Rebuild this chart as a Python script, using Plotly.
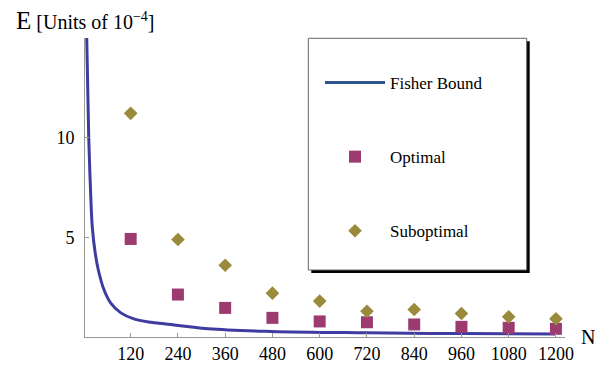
import plotly.graph_objects as go

# ---- data ----
N_points = [120, 240, 360, 480, 600, 720, 840, 960, 1080, 1200]
optimal = [4.92, 2.13, 1.46, 0.96, 0.78, 0.74, 0.63, 0.51, 0.46, 0.41]
suboptimal = [11.22, 4.89, 3.60, 2.20, 1.80, 1.29, 1.38, 1.18, 1.01, 0.91]

fisher_N = [8.4, 13.5, 17.6, 22.6, 30, 38, 52, 69, 95, 128, 171, 205, 317, 477, 720, 960, 1200]
fisher_E = [15.0, 10.0, 7.6, 5.5, 4.2, 3.35, 2.38, 1.71, 1.21, 0.91, 0.74, 0.66, 0.41, 0.28, 0.21, 0.17, 0.15]

x_ticks = [120, 240, 360, 480, 600, 720, 840, 960, 1080, 1200]
y_ticks = [5, 10]

SERIF = "Liberation Serif"
C_LINE = "#3f3ca0"
C_LINE_LEG = "#2e5391"
C_OPT = "#9c3b70"
C_SUB = "#9a8a3c"

fig = go.Figure()

fig.add_trace(go.Scatter(
    x=fisher_N, y=fisher_E, mode="lines",
    line=dict(color=C_LINE, width=3, shape="spline", smoothing=1.0),
    showlegend=False, cliponaxis=True,
))
# legend entry for the Fisher bound
fig.add_trace(go.Scatter(
    x=[None], y=[None], mode="lines", name="Fisher Bound",
    line=dict(color=C_LINE_LEG, width=3), legendgroup="a",
))
fig.add_trace(go.Scatter(
    x=N_points, y=optimal, mode="markers", name="Optimal",
    marker=dict(symbol="square", size=12, color=C_OPT), legendgroup="b",
))
fig.add_trace(go.Scatter(
    x=N_points, y=suboptimal, mode="markers", name="Suboptimal",
    marker=dict(symbol="diamond", size=10.5, color=C_SUB),
    legendgroup="c",
))

L, R, T, B = 85, 30, 38, 31
W, H = 595, 368
pw = W - L - R
ph = H - T - B

def px_x(px):
    return (px - L) / pw

def px_y(py):
    return (H - B - py) / ph

# legend box with shadow
bx0, by0, bx1, by1 = 308.3, 38.3, 526.7, 270
fig.add_shape(type="rect", xref="paper", yref="paper",
              x0=px_x(bx0 + 3), x1=px_x(bx1 + 3), y0=px_y(by1 + 3), y1=px_y(by0 + 3),
              line=dict(width=0), fillcolor="black", layer="below")
fig.add_shape(type="rect", xref="paper", yref="paper",
              x0=px_x(bx0), x1=px_x(bx1), y0=px_y(by1), y1=px_y(by0),
              line=dict(width=1, color="#666666"), fillcolor="white", layer="below")

fig.add_annotation(
    text="<span style='font-size:25px'>E</span> [Units of 10<sup>−4</sup>]",
    xref="paper", yref="paper", x=px_x(14), y=px_y(36),
    xanchor="left", yanchor="bottom", showarrow=False,
    font=dict(family=SERIF, size=20, color="black"),
)
fig.add_annotation(
    text="N", xref="paper", yref="paper", x=px_x(588), y=px_y(337),
    xanchor="center", yanchor="middle", showarrow=False,
    font=dict(family=SERIF, size=20, color="black"),
)

fig.update_layout(
    width=W, height=H,
    margin=dict(l=L, r=R, t=T, b=B, pad=0, autoexpand=False),
    paper_bgcolor="white", plot_bgcolor="white",
    font=dict(family=SERIF, size=18, color="black"),
    legend=dict(
        xref="paper", yref="paper",
        x=px_x(320), y=px_y(65), xanchor="left", yanchor="top",
        bgcolor="rgba(0,0,0,0)", borderwidth=0,
        font=dict(family=SERIF, size=17, color="black"),
        traceorder="grouped", tracegroupgap=49, itemwidth=60,
    ),
    xaxis=dict(
        range=[4, 1223], tickvals=x_ticks, ticktext=[str(v) for v in x_ticks],
        ticks="inside", ticklen=4, tickcolor="#999999", tickangle=0,
        showline=True, linecolor="#999999", linewidth=1,
        showgrid=False, zeroline=False, automargin=False,
        tickfont=dict(family=SERIF, size=18, color="black"),
    ),
    yaxis=dict(
        range=[0, 15], tickvals=y_ticks, ticktext=[str(v) for v in y_ticks],
        ticks="inside", ticklen=4, tickcolor="#999999",
        showline=True, linecolor="#999999", linewidth=1,
        showgrid=False, zeroline=False, ticklabelstandoff=6, automargin=False,
        tickfont=dict(family=SERIF, size=18, color="black"),
    ),
)

fig.write_html("out.html")
